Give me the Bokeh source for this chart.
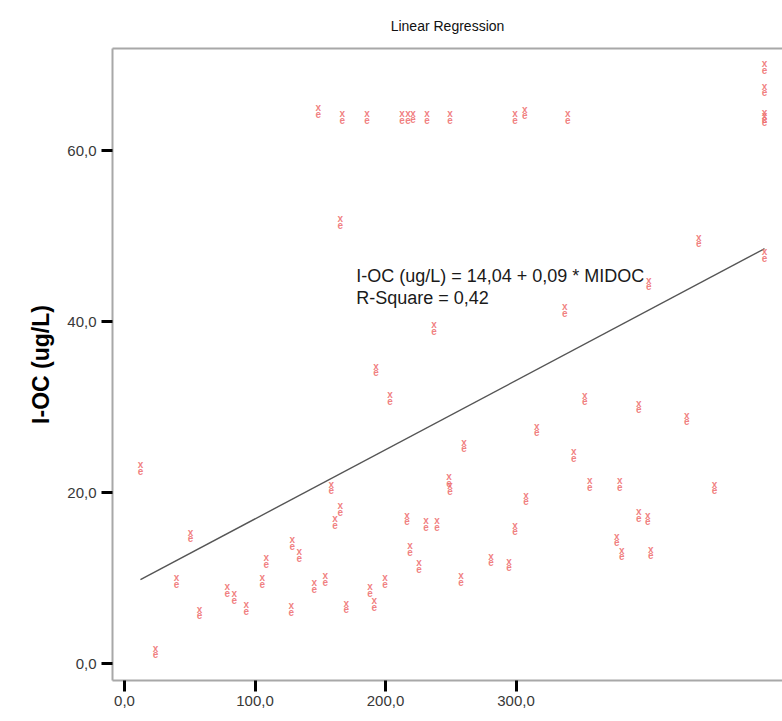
from bokeh.plotting import figure
from bokeh.models import (FixedTicker, CustomJSTickFormatter, LinearAxis, Label,
                          Range1d, ColumnDataSource)
from bokeh.core.properties import value
from bokeh.embed import file_html
from bokeh.resources import INLINE

# ---- data ----
midoc = [148.4, 166.8, 185.9, 212.7, 217.3, 221.1, 231.8, 249.4, 299.2, 306.8, 339.7,
         490.4, 490.4, 490.4, 490.4, 490.4,
         165.3, 237.2, 192.8, 203.5, 440.0, 401.7, 337.4,
         12.2, 50.5, 39.8, 57.4, 23.7, 78.8, 84.2, 93.3, 105.6, 108.6, 128.5, 133.9,
         127.8, 145.4, 153.8, 158.4, 165.3, 161.4,
         316.0, 260.1, 248.7, 249.4, 307.6, 299.2, 280.8, 294.6, 257.8, 216.5, 231.1,
         239.5, 218.8, 225.7, 199.7, 188.2, 191.3, 169.9,
         352.7, 394.0, 430.8, 344.3, 356.5, 379.5, 452.2, 394.0, 400.9, 377.2, 381.0, 403.2]
ioc = [64.65, 63.95, 63.95, 63.95, 63.95, 64.0, 63.95, 63.95, 63.95, 64.5, 63.95,
       69.8, 67.2, 64.1, 63.7, 47.8,
       51.7, 39.3, 34.4, 31.1, 49.5, 44.5, 41.4,
       22.9, 15.0, 9.65, 6.0, 1.4, 8.6, 7.8, 6.5, 9.65, 12.0, 14.1, 12.7,
       6.4, 9.1, 9.9, 20.6, 18.1, 16.6,
       27.4, 25.5, 21.5, 20.5, 19.3, 15.8, 12.2, 11.6, 9.9, 17.0, 16.3,
       16.3, 13.4, 11.4, 9.65, 8.6, 7.0, 6.7,
       31.0, 30.1, 28.7, 24.4, 21.0, 21.0, 20.6, 17.4, 17.0, 14.5, 12.9, 13.0]

x_ticks = [0, 100, 200, 300]
y_ticks = [0, 20, 40, 60]

# regression line as drawn in the picture
fit_intercept = 8.83
fit_slope = 0.081
fit_x = [min(midoc), max(midoc)]
fit_y = [fit_intercept + fit_slope * v for v in fit_x]

title_text = "Linear Regression"
eq_line1 = "I-OC (ug/L) = 14,04 + 0,09 * MIDOC"
eq_line2 = "R-Square = 0,42"
y_label = "I-OC (ug/L)"

FONT = "Liberation Sans"
AXIS_GRAY = "#a8a8a8"
TICK_COLOR = "#383838"
MARK = "#ee6a6a"

p = figure(width=782, height=721, output_backend="svg", toolbar_location=None,
           x_range=Range1d(-9.2, 504.2), y_range=Range1d(-1.98, 71.98),
           min_border_left=112, min_border_right=0, min_border_top=44,
           min_border_bottom=41)
p.title.text = title_text
p.title.align = "center"
p.title.text_font = FONT
p.title.text_font_style = "normal"
p.title.text_font_size = "14px"
p.title.text_color = "#111111"
p.title.standoff = 30
p.outline_line_color = None
p.grid.visible = False
p.background_fill_color = "white"

fmt = CustomJSTickFormatter(code="return tick.toFixed(1).replace('.', ',');")

for ax in (p.xaxis[0], p.yaxis[0]):
    ax.formatter = fmt
    ax.axis_line_color = AXIS_GRAY
    ax.axis_line_width = 2
    ax.major_tick_line_color = "black"
    ax.major_tick_line_width = 3
    ax.major_tick_in = 0
    ax.major_tick_out = 11
    ax.minor_tick_line_color = None
    ax.major_label_text_font = FONT
    ax.major_label_text_font_size = "15px"
    ax.major_label_text_color = TICK_COLOR

p.xaxis[0].ticker = FixedTicker(ticks=x_ticks)
p.yaxis[0].ticker = FixedTicker(ticks=y_ticks)
p.xaxis[0].major_label_standoff = 4
p.yaxis[0].major_label_standoff = 5
p.yaxis[0].axis_label = y_label
p.yaxis[0].axis_label_text_font = FONT
p.yaxis[0].axis_label_text_font_style = "bold"
p.yaxis[0].axis_label_text_font_size = "23px"
p.yaxis[0].axis_label_text_color = "black"
p.yaxis[0].axis_label_standoff = 10

top = LinearAxis(ticker=FixedTicker(ticks=[]), axis_line_color=AXIS_GRAY,
                 axis_line_width=2, major_tick_line_color=None,
                 major_tick_in=0, major_tick_out=0, major_label_standoff=0,
                 axis_label_standoff=0,
                 minor_tick_line_color=None, minor_tick_in=0, minor_tick_out=0,
                 major_label_text_font_size="0px")
p.add_layout(top, "above")

p.line(fit_x, fit_y, line_color="#555555", line_width=1.4)

src = ColumnDataSource(dict(x=midoc, y=ioc, t=["x\ne"] * len(midoc)))
p.text(x="x", y="y", text="t", source=src, text_font=value(FONT),
       text_font_size="10px", text_font_style="bold", text_color=MARK,
       text_align="center", text_baseline="middle", text_line_height=0.6,
       text_alpha=0.85)

p.add_layout(Label(x=177.5, y=45.35, text=eq_line1, text_font=FONT,
                   text_font_size="18px", text_color="#1a1a1a",
                   text_baseline="alphabetic"))
p.add_layout(Label(x=177.5, y=42.8, text=eq_line2, text_font=FONT,
                   text_font_size="18px", text_color="#1a1a1a",
                   text_baseline="alphabetic"))

open("out.html", "w").write(file_html(p, INLINE))
